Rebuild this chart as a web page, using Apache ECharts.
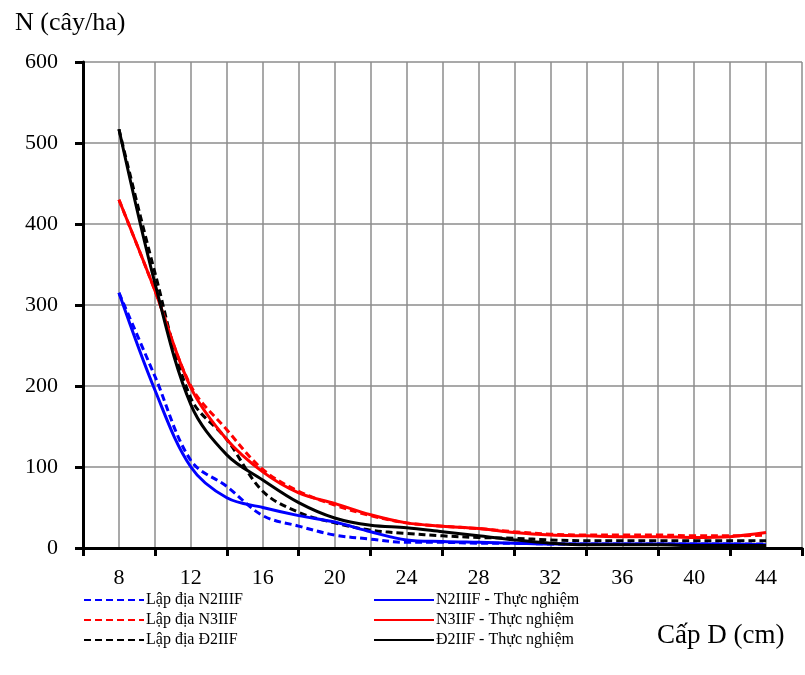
<!DOCTYPE html>
<html>
<head>
<meta charset="utf-8">
<script src="https://cdn.jsdelivr.net/npm/echarts@6/dist/echarts.min.js"></script>
<style>
  html, body { margin: 0; padding: 0; background: #fff; }
  #chart { width: 805px; height: 675px; }
</style>
</head>
<body>
<div id="chart"></div>
<script>
// cấp D (cm)
const dClass = [8, 10, 12, 14, 16, 18, 20, 22, 24, 26, 28, 30, 32, 34, 36, 38, 40, 42, 44];

// lập địa (dashed)
const n2Site = [315, 212, 108, 76, 40, 27, 16, 11, 7, 7, 6, 6, 5, 5, 5, 5, 5, 5, 5];
const n3Site = [430, 318, 200, 146, 97, 70, 53, 40, 31, 27, 24, 20, 17, 16, 16, 16, 15, 15, 16];
const d2Site = [517, 340, 185, 134, 70, 44, 31, 22, 18, 15, 13, 12, 10, 9, 9, 9, 9, 9, 9];

// thực nghiệm (solid)
const n2Exp = [315, 195, 100, 62, 50, 40, 32, 20, 10, 8, 7, 6, 5, 5, 5, 5, 5, 5, 4];
const n3Exp = [430, 318, 198, 134, 94, 68, 55, 41, 31, 27, 24, 19, 16, 15, 14, 14, 13, 14, 19];
const d2Exp = [517, 327, 177, 115, 84, 56, 37, 28, 25, 20, 15, 10, 6, 4, 4, 4, 3, 3, 3];

const yTicks = [0, 100, 200, 300, 400, 500, 600];

const pairs = arr => dClass.map((d, i) => [d, arr[i]]);

const mkSeries = (name, arr, color, dashed) => ({
  name: name,
  type: 'line',
  data: pairs(arr),
  smooth: 0.35,
  symbol: 'none',
  lineStyle: { color: color, width: 3, type: dashed ? [7, 4] : 'solid' },
  itemStyle: { color: color }
});

const font = 'Liberation Serif, Times New Roman, serif';

const legendBase = {
  orient: 'vertical', top: 587, itemWidth: 60, itemHeight: 12, itemGap: 4,
  itemStyle: { opacity: 0 },
  textStyle: { fontFamily: font, fontSize: 16, color: '#000', padding: [0, 0, 0, -3], lineHeight: 14 }
};

const chart = echarts.init(document.getElementById('chart'));
chart.setOption({
  animation: false,
  textStyle: { fontFamily: font },
  grid: { left: 83, right: 2, top: 62, bottom: 127 },
  title: [
    { text: 'N (cây/ha)', left: 10, top: 5, textStyle: { fontFamily: font, fontSize: 26, fontWeight: 'normal', color: '#000' } },
    { text: 'Cấp D (cm)', left: 652, top: 617, textStyle: { fontFamily: font, fontSize: 27, fontWeight: 'normal', color: '#000' } }
  ],
  legend: [
    Object.assign({}, legendBase, {
      left: 78,
      data: ['Lập địa N2IIIF', 'Lập địa N3IIF', 'Lập địa Đ2IIF']
    }),
    Object.assign({}, legendBase, {
      left: 368,
      data: ['N2IIIF - Thực nghiệm', 'N3IIF - Thực nghiệm', 'Đ2IIF - Thực nghiệm']
    })
  ],
  xAxis: [
    {
      type: 'value', min: 6, max: 46, interval: 2,
      axisLine: { show: true, lineStyle: { color: '#000', width: 3 } },
      axisTick: { show: false },
      splitLine: { show: true, lineStyle: { color: '#8c8c8c', width: 1.5 } },
      axisLabel: {
        fontFamily: font, fontSize: 22, color: '#000', margin: 19,
        formatter: v => ((v - 8) % 4 === 0 && v <= 44) ? String(v) : ''
      }
    },
    {
      type: 'value', min: 6, max: 46, interval: 4, position: 'bottom',
      axisLine: { show: false },
      axisTick: { show: true, length: 8, lineStyle: { color: '#000', width: 3 } },
      splitLine: { show: false },
      axisLabel: { show: false }
    }
  ],
  yAxis: {
    type: 'value', min: 0, max: 600, interval: 100,
    axisLine: { show: true, lineStyle: { color: '#000', width: 3 } },
    axisTick: { show: true, length: 8, lineStyle: { color: '#000', width: 3 } },
    splitLine: { show: true, lineStyle: { color: '#8c8c8c', width: 1.5 } },
    axisLabel: {
      fontFamily: font, fontSize: 22, color: '#000', margin: 25,
      formatter: v => yTicks.includes(v) ? String(v) : ''
    }
  },
  series: [
    mkSeries('Lập địa N2IIIF', n2Site, '#0000ff', true),
    mkSeries('Lập địa N3IIF', n3Site, '#ff0000', true),
    mkSeries('Lập địa Đ2IIF', d2Site, '#000000', true),
    mkSeries('N2IIIF - Thực nghiệm', n2Exp, '#0000ff', false),
    mkSeries('N3IIF - Thực nghiệm', n3Exp, '#ff0000', false),
    mkSeries('Đ2IIF - Thực nghiệm', d2Exp, '#000000', false)
  ]
});
</script>
</body>
</html>
